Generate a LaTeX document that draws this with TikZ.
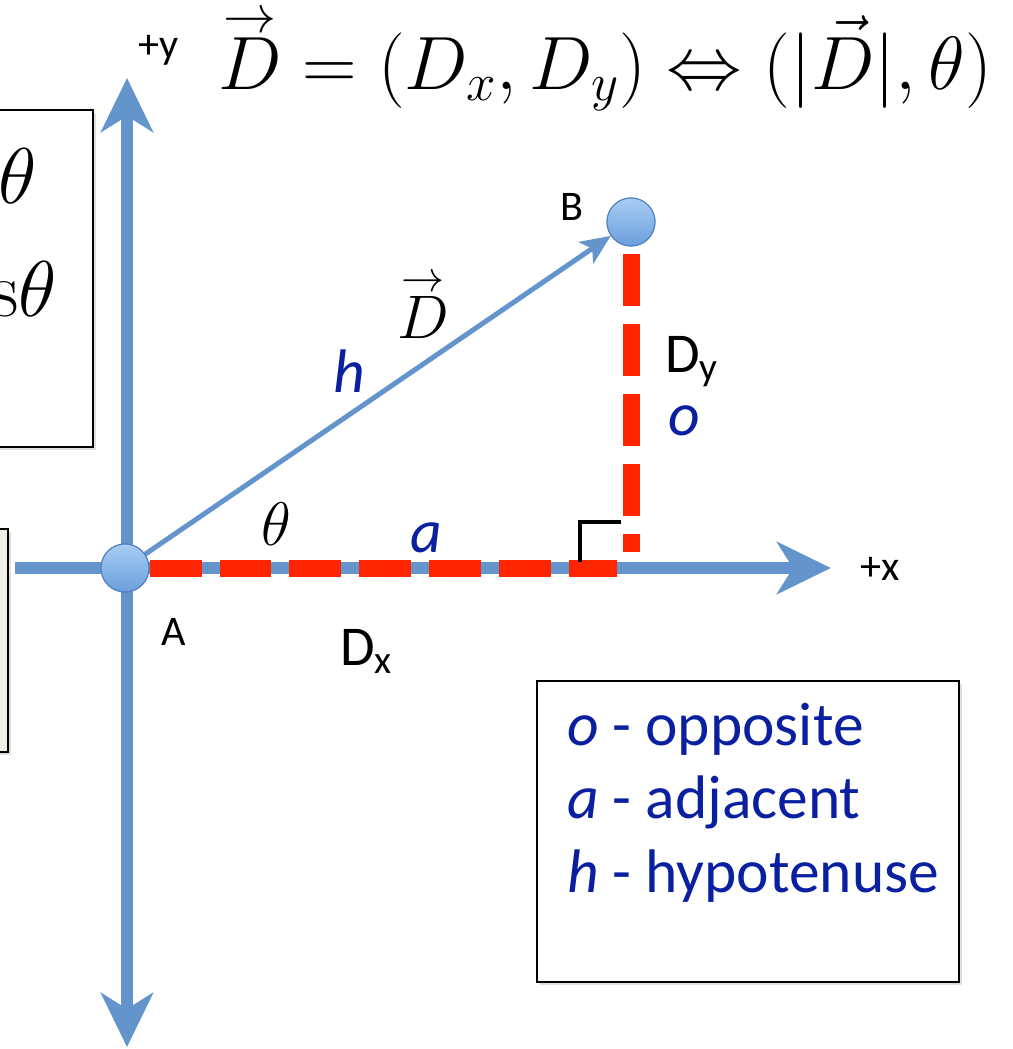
\RequirePackage{fix-cm}
\documentclass[tikz,border=0pt]{standalone}
\usepackage{fontspec}
\usepackage{amsmath}
\newfontfamily\calibri{Carlito}
\usetikzlibrary{
  arrows.meta,
  positioning,
  shadows
}
\definecolor{axBlue}{HTML}{6395CC}
\definecolor{ptTop}{HTML}{A9CDF4}
\definecolor{ptBot}{HTML}{6A9EDB}
\definecolor{ptEdge}{HTML}{4F7FBF}
\definecolor{dashRed}{HTML}{FF2500}
\definecolor{lblBlue}{HTML}{0A20A0}
\definecolor{boxBeige}{HTML}{EFEFE8}
\newcommand{\arrowD}{\overset{\raisebox{-0.6ex}{$\scriptstyle\rightarrow$}}{D}}
\tikzset{
  axistip/.tip={Stealth[length=1.08cm, width=1.04cm, inset=0.32cm]},
  axis/.style={line width=0.24cm, axBlue},
  vecline/.style={line width=0.1cm, axBlue, -{Stealth[length=0.6cm, width=0.52cm, inset=0.15cm]}},
  comp/.style={line width=0.34cm, dashRed, dash pattern=on 1.04cm off 0.36cm},
  rightang/.style={line width=0.08cm, black},
  point/.style={
    circle, minimum size=0.96cm, inner sep=0, draw=ptEdge, line width=0.6pt,
    top color=ptTop, bottom color=ptBot
  },
  infobox/.style={draw=black, line width=1.2pt, fill=white, inner sep=0,
    drop shadow={opacity=0.25, shadow xshift=1.5pt, shadow yshift=-1.5pt}},
  axlabel/.style={font=\calibri\fontsize{24}{28}\selectfont, inner sep=0, anchor=base west},
  ptlabel/.style={font=\calibri\fontsize{24}{28}\selectfont, inner sep=0, anchor=base west},
  complabel/.style={font=\calibri\fontsize{32}{38}\selectfont, inner sep=0, anchor=base west},
  trilabel/.style={font=\calibri\itshape\fontsize{35}{42}\selectfont, text=lblBlue, inner sep=0, anchor=base west},
  legtext/.style={font=\calibri\fontsize{35}{42}\selectfont, text=lblBlue, inner sep=0, anchor=base west},
  bigmath/.style={font=\fontsize{45}{54}\selectfont, inner sep=0},
  titlemath/.style={font=\fontsize{43}{52}\selectfont, inner sep=0, anchor=base west},
  anglabel/.style={font=\fontsize{35}{42}\selectfont, inner sep=0},
  veclabel/.style={font=\fontsize{35}{42}\selectfont, inner sep=0, anchor=base west}
}

\begin{document}
\begin{tikzpicture}[x=0.02cm, y=-0.02cm]
  \useasboundingbox (0,0) rectangle (1013,1049);

  \node[infobox, minimum width=2.26cm, minimum height=6.74cm] (sumbox) at (36.5,278.5) {};
  \node[bigmath, anchor=east] (sinrow) at (37,176) {$\theta$};
  \node[bigmath, anchor=east] (cosrow) at (57,289) {$\mathrm{s}\theta$};
  \node[infobox, fill=boxBeige, minimum width=0.56cm, minimum height=4.46cm] (sidebox) at (-6,640.5) {};

  \coordinate (ytop) at (127,78);
  \coordinate (ybot) at (127,1047);
  \coordinate (xleft) at (15,568);
  \coordinate (xright) at (831,568);
  \draw[axis, axistip-axistip] (ybot) -- (ytop);
  \draw[axis, -axistip] (xleft) -- (xright);

  \node[point] (A) at (125,568) {};
  \node[point] (B) at (631,222) {};

  \coordinate (DxEnd) at (617,568);
  \coordinate (DyTop) at (631,254);
  \coordinate (DyBot) at (631,552);
  \draw[comp] (A.east) -- (DxEnd);
  \draw[comp] (DyTop) -- (DyBot);
  \draw[vecline] (A) -- (B);

  \coordinate (raFoot) at (580,562);
  \coordinate (raCorner) at (580,522);
  \coordinate (raEnd) at (621,522);
  \draw[rightang] (raFoot) -- (raCorner) -- (raEnd);

  \node[point] at (A) {};
  \node[point] at (B) {};

  \node[titlemath] (title) at (218,89)
    {$\arrowD = (D_x, D_y) \Leftrightarrow (|\vec{D}|, \theta)$};
  \node[axlabel] (ylabel) at (138,58) {+y};
  \node[axlabel] (xlabel) at (860,580) {+x};
  \node[ptlabel] (Alabel) at (161,645) {A};
  \node[ptlabel] (Blabel) at (560,220) {B};
  \node[complabel] (Dxlabel) at (340,665) {D$_{\text{x}}$};
  \node[complabel] (Dylabel) at (665,372) {D$_{\text{y}}$};
  \node[trilabel] (hlabel) at (333,392) {h};
  \node[trilabel] (olabel) at (668,435) {o};
  \node[trilabel] (alabel) at (410,552) {a};
  \node[anglabel] (theta) at (276,524) {$\theta$};
  \node[veclabel] (Dvec) at (397,338) {$\arrowD$};

  \node[infobox, minimum width=8.44cm, minimum height=6.02cm] (legend) at (748,831.5) {};
  \node[legtext] (legO) at (567,745) {\textit{o} - opposite};
  \node[legtext] (legA) at (567,818) {\textit{a} - adjacent};
  \node[legtext] (legH) at (567,892) {\textit{h} - hypotenuse};
\end{tikzpicture}
\end{document}
